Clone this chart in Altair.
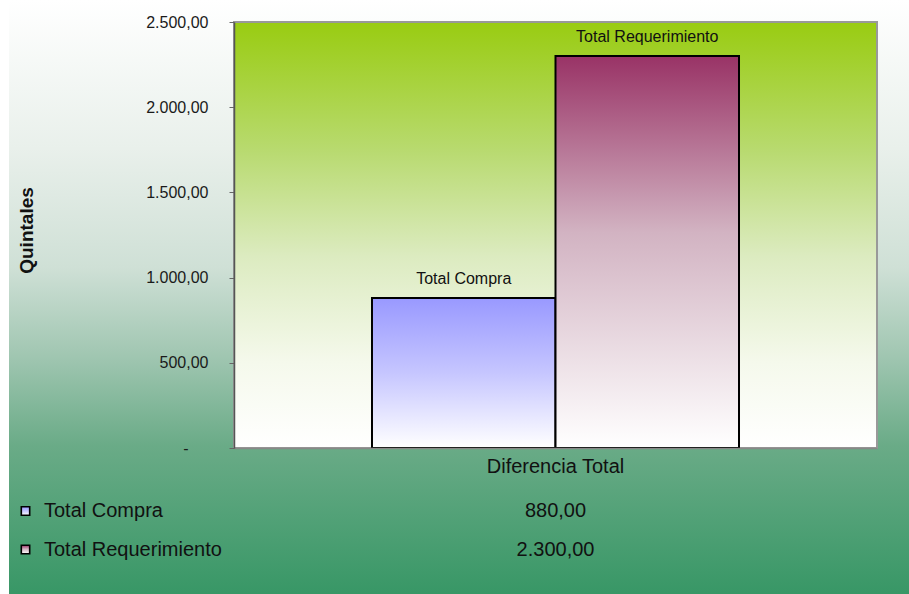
import altair as alt
import pandas as pd

# ---- data ----
categories = ["Diferencia Total", "Diferencia Total"]
series = ["Total Compra", "Total Requerimiento"]
values = [880, 2300]
y_ticks = [0, 500, 1000, 1500, 2000, 2500]

df = pd.DataFrame({"category": categories, "series": series, "value": values})

FONT = "Liberation Sans"
W, H = 643, 426
PAD = {"left": 234, "top": 22, "right": 909 - 234 - W, "bottom": 594 - 22 - H}

ES_FMT = "replace(replace(replace(format({v}, ',.2f'), ',', '_'), '.', ','), '_', '.')"


def grad(stops):
    return alt.LinearGradient(
        gradient="linear", x1=0, y1=0, x2=0, y2=1,
        stops=[alt.GradientStop(offset=o, color=c) for o, c in stops],
    )


bg_grad = grad([(0, "#ffffff"), (0.25, "#e9f0eb"), (0.45, "#cfe0d6"),
                (0.6, "#a0c6b1"), (0.75, "#6aab87"), (1, "#389766")])
plot_grad = grad([(0, "#99cc11"), (0.3, "#b8da6f"), (0.55, "#dcebc0"),
                  (0.8, "#f5f9ec"), (1, "#ffffff")])
bar_grads = {
    "Total Compra": grad([(0, "#9999ff"), (0.5, "#c6c6ff"), (1, "#ffffff")]),
    "Total Requerimiento": grad([(0, "#993366"), (0.45, "#d2b3c2"), (1, "#ffffff")]),
}

xscale = alt.Scale(paddingInner=0, paddingOuter=0.376)
xaxis = alt.Axis(title=None, labelFont=FONT, labelFontSize=20, labelColor="#111111",
                 ticks=False, tickSize=0, labelPadding=8, labelAngle=0,
                 domainColor="#888888", domainWidth=1.5, zindex=1)
xoff = alt.XOffset("series:N", scale=alt.Scale(domain=series, paddingInner=0, paddingOuter=0))
yscale = alt.Scale(domain=[0, 2500], nice=False)
yaxis = alt.Axis(
    values=y_ticks,
    labelExpr="datum.value == 0 ? '-' : " + ES_FMT.format(v="datum.value"),
    labelFont=FONT, labelFontSize=16, labelColor="#1a1a1a",
    labelPadding={"condition": {"test": "datum.value === 0", "value": 41}, "value": 21},
    tickSize=5, tickColor="#666666", domainColor="#555555", domainWidth=1.5,
    grid=False, title="Quintales", titleFont=FONT, titleFontSize=19,
    titleFontWeight="bold", titleColor="#111111", titleX=-208, titleY=208,
    titleBaseline="middle", titleAlign="center", zindex=1,
)
row_scale = alt.Scale(type="point", domain=series, range=[489, 527.5], padding=0)

one = alt.Data(values=[{"k": 1}])

bg = alt.Chart(one).mark_rect(fill=bg_grad).encode(
    x=alt.value(9 - PAD["left"]), x2=alt.value(909 - PAD["left"]),
    y=alt.value(-PAD["top"]), y2=alt.value(594 - PAD["top"]),
)
plot_bg = alt.Chart(one).mark_rect(fill=plot_grad, stroke="#999999", strokeWidth=2).encode(
    x=alt.value(0), x2=alt.value(W), y=alt.value(0), y2=alt.value(H),
)

base = alt.Chart(df)
layers = [bg, plot_bg]
for i, s in enumerate(series):
    layers.append(
        base.transform_filter(alt.datum.series == s)
        .mark_bar(fill=bar_grads[s], stroke="black", strokeWidth=2)
        .encode(
            x=alt.X("category:N", scale=xscale, axis=xaxis),
            xOffset=xoff,
            y=alt.Y("value:Q", scale=yscale, axis=yaxis if i == 0 else None),
        )
    )

labels = base.mark_text(baseline="bottom", dy=-11, font=FONT, fontSize=16,
                        color="#111111").encode(
    x=alt.X("category:N", scale=xscale, axis=xaxis),
    xOffset=xoff,
    y=alt.Y("value:Q", scale=yscale, axis=None),
    text="series:N",
)
layers.append(labels)

for s in series:
    layers.append(
        base.transform_filter(alt.datum.series == s)
        .mark_square(fill=bar_grads[s], stroke="black", strokeWidth=1.6, size=70, opacity=1)
        .encode(x=alt.value(25.5 - PAD["left"]),
                y=alt.Y("series:N", scale=row_scale, axis=None))
    )

names = base.mark_text(align="left", baseline="middle", font=FONT, fontSize=20,
                       color="#111111").encode(
    x=alt.value(44 - PAD["left"]),
    y=alt.Y("series:N", scale=row_scale, axis=None),
    text="series:N",
)
vals = base.transform_calculate(label=ES_FMT.format(v="datum.value")).mark_text(
    align="center", baseline="middle", font=FONT, fontSize=20, color="#111111"
).encode(
    x=alt.X("category:N", scale=xscale, axis=xaxis),
    y=alt.Y("series:N", scale=row_scale, axis=None),
    text="label:N",
)
layers += [names, vals]

chart = (
    alt.layer(*layers)
    .resolve_scale(y="independent")
    .properties(width=W, height=H, padding=PAD, background="white",
                autosize=alt.AutoSizeParams(type="none"))
    .configure_view(strokeWidth=0)
)

chart.save("out.html", embed_options={"renderer": "svg", "actions": False})
